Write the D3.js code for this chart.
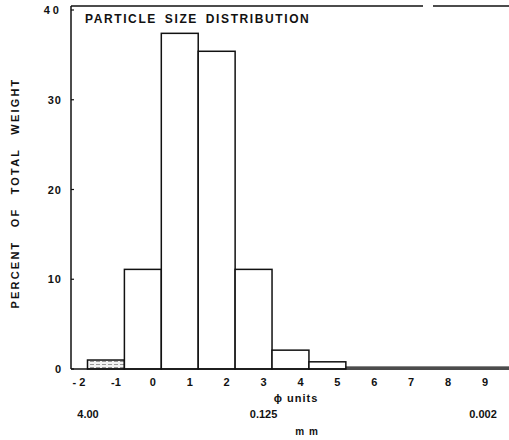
<!DOCTYPE html>
<html><head><meta charset="utf-8">
<script src="https://cdn.jsdelivr.net/npm/d3@7"></script>
<style>
body{margin:0;background:#fff;}
text{font-family:"Liberation Sans",Arial,sans-serif;font-weight:bold;fill:#111;}
</style></head>
<body><svg id="c" width="509" height="440"></svg>
<script>
const phiTicks = [-2,-1,0,1,2,3,4,5,6,7,8,9];
const tickLabels = ["- 2","-1","0","1","2","3","4","5","6","7","8","9"];
const binPhi = [-1,0,1,2,3,4,5];
const binPct = [1.0,11.1,37.4,35.4,11.1,2.1,0.8];
const tailPhi = [6,7,8,9,10,11];
const tailPct = [0.2,0.2,0.2,0.2,0.2,0.2];
const yTicks = [0,10,20,30,40];
const mmLabels = [{phi:-2,t:"4.00"},{phi:3,t:"0.125"},{phi:9,t:"0.002"}];

const svg = d3.select("#c");
const x = d3.scaleLinear().domain([-2,9]).range([79,485]);
const y = d3.scaleLinear().domain([0,40]).range([369,10]);
const x0 = 71;

const defs = svg.append("defs");
const pat = defs.append("pattern").attr("id","dots").attr("width",6).attr("height",3).attr("patternUnits","userSpaceOnUse");
pat.append("rect").attr("width",6).attr("height",3).attr("fill","#f2f2f2");
pat.append("rect").attr("x",0).attr("y",1).attr("width",4).attr("height",1).attr("fill","#999");

// frame top with gap
svg.append("line").attr("x1",x0).attr("x2",423).attr("y1",6).attr("y2",6).attr("stroke","#111").attr("stroke-width",1.3);
svg.append("line").attr("x1",433).attr("x2",509).attr("y1",6).attr("y2",6).attr("stroke","#111").attr("stroke-width",1.3);

// bars
svg.append("g").selectAll("rect").data(binPhi).join("rect")
  .attr("x",d=>x(d-0.77)).attr("width",d=>x(d+0.23)-x(d-0.77))
  .attr("y",(d,i)=>y(binPct[i])).attr("height",(d,i)=>y(0)-y(binPct[i]))
  .attr("fill",(d,i)=>i===0?"url(#dots)":"#fff")
  .attr("stroke","#111").attr("stroke-width",1.5);

// tail near zero
svg.append("path").datum(tailPhi).attr("fill","none").attr("stroke","#111").attr("stroke-width",1.2)
  .attr("d",d3.line().x(d=>x(d-0.77)).y((d,i)=>y(tailPct[i])).curve(d3.curveStepAfter));

// axes lines
svg.append("line").attr("x1",x0).attr("x2",509).attr("y1",y(0)).attr("y2",y(0)).attr("stroke","#111").attr("stroke-width",1.5);
svg.append("line").attr("x1",x0).attr("x2",x0).attr("y1",y(0)).attr("y2",6).attr("stroke","#111").attr("stroke-width",1.5);

// y ticks
const yg = svg.append("g");
yg.selectAll("line").data(yTicks).join("line").attr("x1",x0).attr("x2",x0+3).attr("y1",d=>y(d)).attr("y2",d=>y(d)).attr("stroke","#111").attr("stroke-width",1.2);
yg.selectAll("text").data(yTicks).join("text").attr("x",62).attr("y",d=>y(d)+4).attr("text-anchor","end")
  .attr("font-size",11).attr("letter-spacing",d=>d===40?"3px":"1px").text(d=>d);

// x tick labels
svg.append("g").selectAll("text").data(phiTicks).join("text")
  .attr("x",d=>x(d)).attr("y",386).attr("text-anchor","middle").attr("font-size",11)
  .text((d,i)=>tickLabels[i]);

svg.append("text").attr("x",296).attr("y",402).attr("text-anchor","middle").attr("font-size",11).attr("letter-spacing","1px").text("ϕ units");
svg.append("g").selectAll("text").data(mmLabels).join("text")
  .attr("x",d=>d.phi===-2?x(d.phi)+9:(d.phi===9?x(d.phi)-2:x(d.phi))).attr("y",418).attr("text-anchor","middle").attr("font-size",11).attr("font-weight","normal")
  .text(d=>d.t);
svg.append("text").attr("x",307).attr("y",435).attr("text-anchor","middle").attr("font-size",10).attr("letter-spacing","1px").text("m m");

// title
svg.append("text").attr("x",85).attr("y",23).attr("font-size",12).attr("letter-spacing","1.6px").attr("word-spacing","3px").text("PARTICLE SIZE DISTRIBUTION");

// y title
svg.append("text").attr("transform","translate(19,193) rotate(-90)").attr("text-anchor","middle").attr("font-size",11).attr("letter-spacing","2.2px").attr("word-spacing","8px").text("PERCENT OF TOTAL WEIGHT");
</script></body></html>
